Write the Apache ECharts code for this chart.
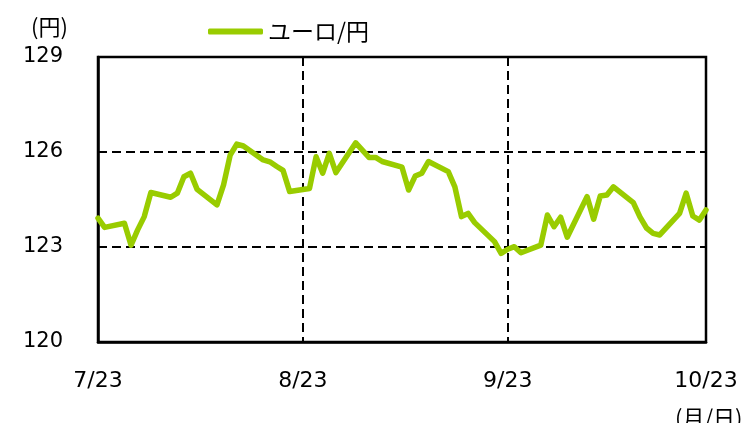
<!DOCTYPE html>
<html><head><meta charset="utf-8">
<script src="https://cdn.jsdelivr.net/npm/echarts@6/dist/echarts.min.js"></script>
<style>html,body{margin:0;padding:0;background:#fff}#c{width:745px;height:423px}</style>
</head><body><div id="c"></div>
<script>
const dates = ["7/23","7/24","7/27","7/28","7/29","7/30","7/31","8/3","8/4","8/5","8/6","8/7","8/10","8/11","8/12","8/13","8/14","8/17","8/18","8/19","8/20","8/21","8/24","8/25","8/26","8/27","8/28","8/31","9/1","9/2","9/3","9/4","9/7","9/8","9/9","9/10","9/11","9/14","9/15","9/16","9/17","9/18","9/21","9/22","9/23","9/24","9/25","9/28","9/29","9/30","10/1","10/2","10/5","10/6","10/7","10/8","10/9","10/12","10/13","10/14","10/15","10/16","10/19","10/20","10/21","10/22","10/23"];
const eurJpy = [123.91,123.62,123.75,123.06,123.54,123.96,124.72,124.57,124.70,125.22,125.33,124.82,124.33,124.96,125.90,126.25,126.19,125.75,125.69,125.55,125.42,124.75,124.85,125.85,125.33,125.96,125.35,126.29,126.06,125.83,125.83,125.70,125.52,124.80,125.24,125.33,125.70,125.38,124.90,123.96,124.06,123.77,123.17,122.80,122.93,123.01,122.82,123.06,124.01,123.64,123.94,123.31,124.59,123.88,124.61,124.64,124.90,124.40,123.95,123.60,123.43,123.38,124.06,124.70,123.98,123.85,124.17];
const xTickLabels = ["7/23","8/23","9/23","10/23"];
const yMin = 120, yMax = 129, yStep = 3;
const seriesName = "ユーロ/円";

// full calendar-day category axis 7/23 .. 10/23
const monthDays = {7:31,8:31,9:30,10:31};
const allDays = [];
let m = 7, d = 23;
while (true) {
  allDays.push(m + "/" + d);
  if (m === 10 && d === 23) break;
  d++; if (d > monthDays[m]) { d = 1; m++; }
}
const valMap = {};
dates.forEach((k, i) => valMap[k] = eurJpy[i]);
const seriesData = allDays.map(k => (k in valMap ? valMap[k] : null));
const tickIdx = xTickLabels.map(k => allDays.indexOf(k));

const font = "'DejaVu Sans', 'Noto Sans CJK JP', sans-serif";
const jpFont = "'Noto Sans CJK JP', 'DejaVu Sans', sans-serif";
const chart = echarts.init(document.getElementById('c'), null, {renderer: 'canvas'});
chart.setOption({
  animation: false,
  backgroundColor: '#fff',
  grid: {left: 98, right: 39, top: 57, bottom: 81, show: true, borderColor: '#000', borderWidth: 2.5, backgroundColor: 'transparent'},
  legend: {
    top: 15, left: 203, itemWidth: 55, itemHeight: 6, itemGap: 6,
    textStyle: {fontFamily: jpFont, fontSize: 23, color: '#000', padding: [0, 0, 0, 0]},
    data: [{name: seriesName, icon: 'roundRect'}]
  },
  xAxis: {
    type: 'category', data: allDays, boundaryGap: false,
    axisLine: {show: true, lineStyle: {color: '#000', width: 2.5}},
    axisTick: {show: false},
    axisLabel: {interval: (i) => tickIdx.includes(i), margin: 28, fontFamily: font, fontSize: 22, color: '#000', showMaxLabel: true, showMinLabel: true},
    splitLine: {show: true, interval: (i) => tickIdx.includes(i) && i !== 0 && i !== allDays.length - 1, lineStyle: {color: '#000', type: [9, 5], width: 2}}
  },
  yAxis: {
    type: 'value', min: yMin, max: yMax, interval: yStep,
    axisLine: {show: true, lineStyle: {color: '#000', width: 2.5}},
    axisTick: {show: false},
    axisLabel: {margin: 35, fontFamily: font, fontSize: 21, color: '#000'},
    splitLine: {show: true, lineStyle: {color: '#000', type: [9, 5], width: 2}}
  },
  graphic: [
    {type: 'text', left: 31, top: 16, style: {text: '(円)', fontFamily: jpFont, fontSize: 22, fill: '#000'}},
    {type: 'text', left: 675, top: 407, style: {text: '(月/日)', fontFamily: jpFont, fontSize: 22, fill: '#000'}}
  ],
  series: [{
    name: seriesName, type: 'line', data: seriesData, connectNulls: true,
    showSymbol: false, symbol: 'none',
    lineStyle: {color: '#99CC00', width: 5.5, join: 'round', cap: 'round'},
    itemStyle: {color: '#99CC00'}
  }]
});
</script></body></html>
